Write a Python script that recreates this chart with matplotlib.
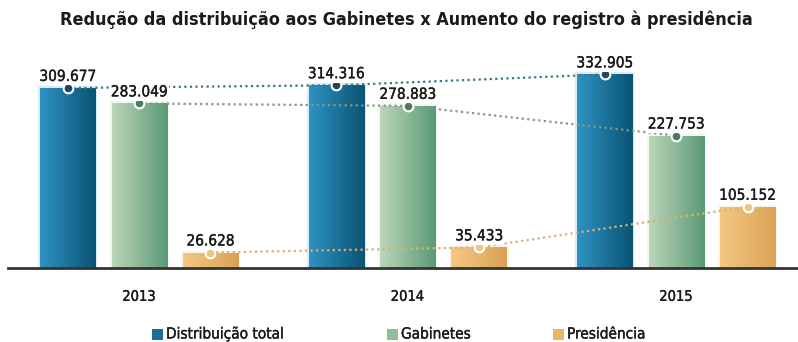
#!/usr/bin/env python3
"""Distribuição de processos: gabinetes x presidência, 2013-2015."""

import matplotlib
matplotlib.use("Agg")
import matplotlib.pyplot as plt
import matplotlib.patheffects as pe
import numpy as np
from matplotlib import font_manager
from matplotlib.colors import LinearSegmentedColormap
from matplotlib.patches import Rectangle


YEARS = ["2013", "2014", "2015"]
SERIES = ["Distribuição total", "Gabinetes", "Presidência"]
DISTRIBUICAO_TOTAL = [309677, 314316, 332905]
GABINETES = [283049, 278883, 227753]
PRESIDENCIA = [26628, 35433, 105152]

TITLE = "Redução da distribuição aos Gabinetes x Aumento do registro à presidência"

# left/right gradient stops, marker fill, dotted line colour
STYLES = [
    ("#2e93c2", "#0a5373", "#1b4a5c", "#3d7488"),
    ("#bcd6b9", "#5a9a76", "#4a7c64", "#7a9c88"),
    ("#f4c882", "#d9a256", "#e8c888", "#d8b074"),
]
LEGEND_COLORS = ["#1d6e94", "#93bc9c", "#e7b76e"]

# a thin outline in the text colour gives regular text a medium weight
MEDIUM = [pe.withStroke(linewidth=0.25, foreground="#1a1a1a")]


def narrow_font(bold: bool, size: float) -> font_manager.FontProperties:
    """Look for a narrow/condensed face among the installed fonts."""
    hits = []
    for f in font_manager.fontManager.ttflist:
        name = f.fname.lower()
        if "italic" in name or "oblique" in name:
            continue
        if "narrow" in name or "condensed" in name or f.stretch in ("condensed", "semi-condensed"):
            is_bold = f.weight in ("bold", 700, 600, "semibold") or "bold" in name
            if is_bold == bold:
                hits.append(f.fname)
    if hits:
        hits.sort(key=lambda p: ("liberation" not in p.lower(), "dejavu" not in p.lower(), p))
        return font_manager.FontProperties(fname=hits[0], size=size)
    return font_manager.FontProperties(family="DejaVu Sans", size=size,
                                       weight="bold" if bold else "normal")


def fmt(v: int) -> str:
    return f"{v:,}".replace(",", ".")


def gradient_bar(ax, x, h, w, c_left, c_right):
    bar = ax.bar(x, h, w, color="none", edgecolor="none", zorder=2)[0]
    # soft halo around the bar
    ax.bar(x, h, w, color="none", edgecolor=c_left, linewidth=3, alpha=0.18, zorder=1)
    cmap = LinearSegmentedColormap.from_list("g", [c_left, c_right])
    grad = np.linspace(0, 1, 256).reshape(1, -1)
    im = ax.imshow(grad, cmap=cmap, extent=[x - w / 2, x + w / 2, 0, h],
                   aspect="auto", zorder=2, interpolation="bilinear")
    im.set_clip_path(bar)


fig = plt.figure(figsize=(7.98, 3.42), dpi=100)
ax = fig.add_axes([8 / 798, 1 - 268 / 342, 790 / 798, 218 / 342])

values = [DISTRIBUICAO_TOTAL, GABINETES, PRESIDENCIA]
offsets = [-0.266, 0.0, 0.266]
width = 0.205
centers = np.arange(len(YEARS))

for vals, off, (c0, c1, mk, ln) in zip(values, offsets, STYLES):
    xs = centers + off
    ys = np.array(vals) / 1000
    for x, y in zip(xs, ys):
        gradient_bar(ax, x, y, width, c0, c1)
    ax.plot(xs, ys, linestyle=(0, (1, 1.5)), color=ln, linewidth=1.6, zorder=3)
    ax.plot(xs, ys, "o", markersize=7, markerfacecolor=mk,
            markeredgecolor="white", markeredgewidth=1.5, zorder=5)
    for x, y, v in zip(xs, ys, vals):
        ax.text(x, y + 7, fmt(v), ha="center", va="bottom", color="#1a1a1a",
                zorder=6, fontproperties=narrow_font(False, 11), path_effects=MEDIUM,
                bbox=dict(boxstyle="square,pad=0.1", fc="white", ec="none"))

ax.set_xlim(-0.488, 2.454)
ax.set_ylim(0, 375)
ax.set_xticks(centers)
ax.set_xticklabels(YEARS, color="#1a1a1a", fontproperties=narrow_font(False, 10.5))
for t in ax.get_xticklabels():
    t.set_path_effects(MEDIUM)
ax.tick_params(axis="x", length=0, pad=15)
ax.set_yticks([])
for side in ["top", "left", "right"]:
    ax.spines[side].set_visible(False)
ax.spines["bottom"].set_color("#333333")
ax.spines["bottom"].set_linewidth(2)
ax.patch.set_alpha(0)

title = fig.text(0.509, 1 - 20 / 342, TITLE, ha="center", va="center",
                 color="#1a1a1a", fontproperties=narrow_font(True, 15))
# scale the title to span its full line width
r = fig.canvas.get_renderer()
title.set_fontsize(15 * 690 / title.get_window_extent(r).width)

# legend: square + label, placed along the bottom
legend_x = [152, 387, 553]
for px, label, color in zip(legend_x, SERIES, LEGEND_COLORS):
    fig.patches.append(Rectangle((px / 798, 1 - 340 / 342), 11 / 798, 11 / 342,
                                 transform=fig.transFigure, facecolor=color,
                                 edgecolor="none"))
    fig.text((px + 14) / 798, 1 - 334 / 342, label, ha="left", va="center",
             color="#1a1a1a", fontproperties=narrow_font(False, 11), path_effects=MEDIUM)

fig.savefig("out.png", dpi=100, facecolor="white")
